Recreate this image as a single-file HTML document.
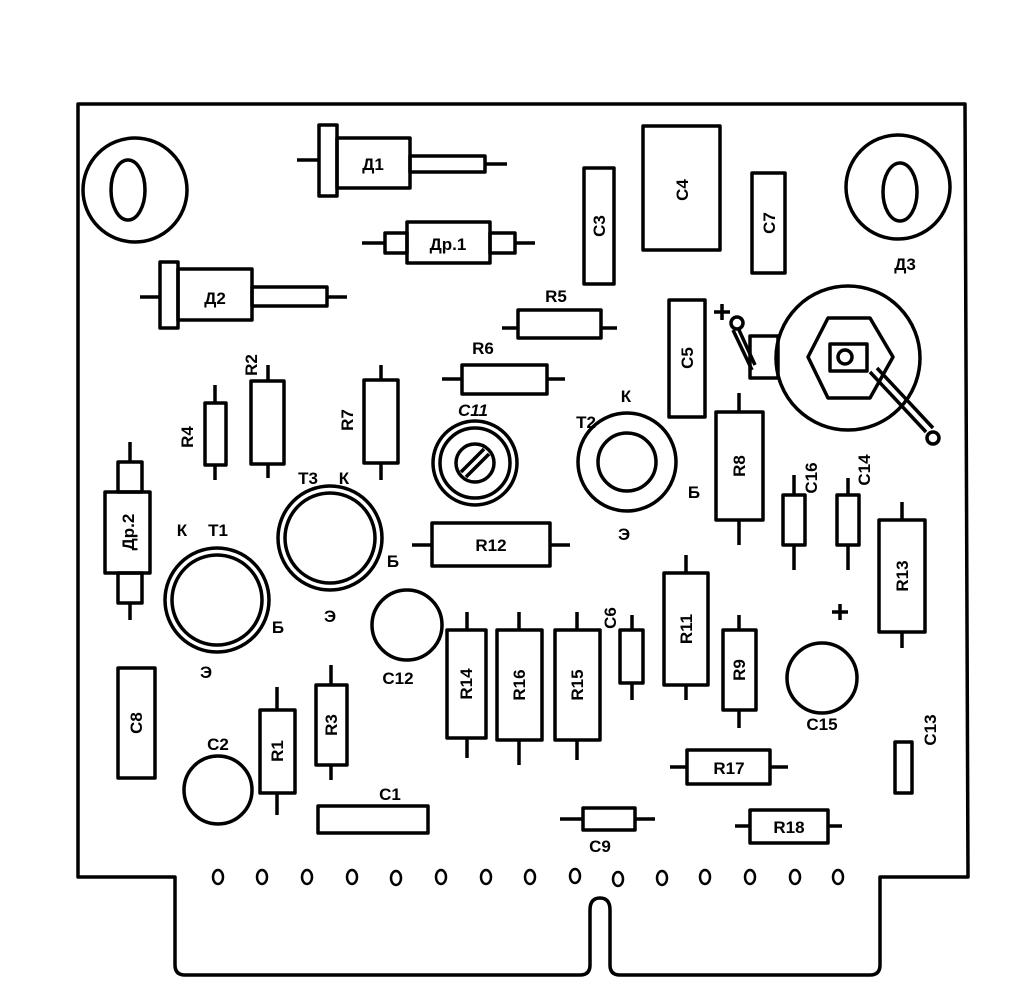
<!DOCTYPE html>
<html><head><meta charset="utf-8"><style>
html,body{margin:0;padding:0;background:#fff}
svg{display:block}
text{font-family:"Liberation Sans",sans-serif;font-weight:bold;font-size:17px;fill:#000}
</style></head><body>
<svg width="1023" height="1002" viewBox="0 0 1023 1002" xmlns="http://www.w3.org/2000/svg">
<g fill="none" stroke="#000" stroke-width="3.5" stroke-linejoin="round">
<path d="M78 877 L78 104 L965 104 L968 877 L880 877 L880 965 Q880 975 870 975 L620 975 Q610 975 610 965 L610 910 Q610 898 600 898 Q590 898 590 910 L590 965 Q590 975 580 975 L185 975 Q175 975 175 965 L175 877 Z"/>
<circle cx="135" cy="190" r="52"/><ellipse cx="128" cy="190" rx="17" ry="30"/>
<circle cx="898" cy="187" r="52"/><ellipse cx="900" cy="192" rx="17" ry="29"/>
<path d="M297 160H320M485 164H507"/>
<rect x="319" y="125" width="18" height="71"/><rect x="337" y="138" width="73" height="50"/><rect x="410" y="156" width="75" height="16"/>
<path d="M362 243H385M515 243H535"/>
<rect x="385" y="233" width="22" height="20"/><rect x="407" y="222" width="83" height="41"/><rect x="490" y="233" width="25" height="20"/>
<path d="M140 297H160M327 297H347"/>
<rect x="160" y="262" width="18" height="66"/><rect x="178" y="269" width="74" height="51"/><rect x="252" y="287" width="75" height="19"/>
<rect x="584" y="168" width="30" height="116"/>
<rect x="643" y="126" width="77" height="124"/>
<rect x="752" y="173" width="33" height="100"/>
<rect x="669" y="300" width="36" height="117"/>
<path d="M502 328H518M601 328H617"/><rect x="518" y="310" width="83" height="28"/>
<path d="M442 379H462M547 379H565"/><rect x="462" y="365" width="85" height="29"/>
<path d="M215 385V403M215 465V480"/><rect x="205" y="403" width="21" height="62"/>
<path d="M268 365V381M268 464V478"/><rect x="251" y="381" width="33" height="83"/>
<path d="M381 365V380M381 463V480"/><rect x="364" y="380" width="34" height="83"/>
<circle cx="475" cy="463" r="42"/><circle cx="475" cy="463" r="35"/><circle cx="475" cy="463" r="19"/>
<path d="M461 472L484 449M466 477L489 454"/>
<path d="M130 442V462M130 603V620"/>
<rect x="118" y="462" width="24" height="30"/><rect x="105" y="492" width="45" height="81"/><rect x="118" y="573" width="24" height="30"/>
<circle cx="330" cy="538" r="52"/><circle cx="330" cy="538" r="45"/>
<circle cx="217" cy="600" r="52"/><circle cx="217" cy="600" r="45"/>
<circle cx="627" cy="462" r="49"/><circle cx="627" cy="462" r="29"/>
<path d="M412 545H432M550 545H570"/><rect x="432" y="523" width="118" height="43"/>
<circle cx="848" cy="358" r="72"/>
<path d="M828 318H870L893 357L870 398H828L808 357Z"/>
<rect x="830" y="344" width="37" height="27"/><circle cx="845" cy="357" r="7"/>
<path d="M870 372L926 432M877 368L933 428"/><circle cx="933" cy="438" r="6"/>
<rect x="750" y="336" width="28" height="42"/>
<circle cx="737" cy="323" r="6"/><path d="M733 330L752 370M739 330L755 365"/>
<path d="M714 312H730M722 304V320"/>
<path d="M739 393V412M739 520V545"/><rect x="716" y="412" width="47" height="108"/>
<path d="M794 475V495M794 545V570"/><rect x="783" y="495" width="22" height="50"/>
<path d="M848 478V495M848 545V570"/><rect x="837" y="495" width="22" height="50"/>
<path d="M902 502V520M902 632V648"/><rect x="879" y="520" width="46" height="112"/>
<path d="M832 612H848M840 604V620"/>
<circle cx="822" cy="678" r="35"/>
<rect x="895" y="742" width="17" height="51"/>
<path d="M686 555V573M686 685V700"/><rect x="664" y="573" width="44" height="112"/>
<path d="M739 615V630M739 710V728"/><rect x="723" y="630" width="33" height="80"/>
<path d="M632 615V630M632 683V700"/><rect x="620" y="630" width="23" height="53"/>
<path d="M577 612V630M577 740V760"/><rect x="555" y="630" width="45" height="110"/>
<path d="M519 612V630M519 740V765"/><rect x="497" y="630" width="45" height="110"/>
<path d="M467 612V630M467 738V758"/><rect x="447" y="630" width="39" height="108"/>
<circle cx="407" cy="625" r="35"/>
<rect x="118" y="668" width="37" height="110"/>
<circle cx="218" cy="790" r="34"/>
<path d="M277 687V710M277 793V815"/><rect x="260" y="710" width="35" height="83"/>
<path d="M331 665V685M331 765V780"/><rect x="316" y="685" width="31" height="80"/>
<rect x="318" y="806" width="110" height="27"/>
<path d="M670 767H687M770 767H788"/><rect x="687" y="750" width="83" height="34"/>
<path d="M560 819H583M635 819H655"/><rect x="583" y="808" width="52" height="22"/>
<path d="M735 826H750M828 826H842"/><rect x="750" y="810" width="78" height="33"/>
<g stroke-width="2.5">
<ellipse cx="218" cy="877" rx="5" ry="7"/><ellipse cx="262" cy="877" rx="5" ry="7"/><ellipse cx="307" cy="877" rx="5" ry="7"/><ellipse cx="352" cy="877" rx="5" ry="7"/><ellipse cx="396" cy="878" rx="5" ry="7"/><ellipse cx="441" cy="877" rx="5" ry="7"/><ellipse cx="486" cy="877" rx="5" ry="7"/><ellipse cx="530" cy="877" rx="5" ry="7"/><ellipse cx="575" cy="876" rx="5" ry="7"/><ellipse cx="618" cy="879" rx="5" ry="7"/><ellipse cx="662" cy="878" rx="5" ry="7"/><ellipse cx="705" cy="877" rx="5" ry="7"/><ellipse cx="750" cy="877" rx="5" ry="7"/><ellipse cx="795" cy="877" rx="5" ry="7"/><ellipse cx="838" cy="877" rx="5" ry="7"/>
</g>
</g>
<g text-anchor="middle">
<text x="373" y="170">Д1</text>
<text x="448" y="250" font-size="16">Др.1</text>
<text x="215" y="304">Д2</text>
<text x="905" y="270">Д3</text>
<text x="556" y="302" font-size="16">R5</text>
<text x="483" y="354" font-size="16">R6</text>
<text x="473" y="416" font-style="italic">C11</text>
<text x="586" y="428" font-size="16">T2</text>
<text x="626" y="402" font-size="16">К</text>
<text x="694" y="498" font-size="16">Б</text>
<text x="624" y="540" font-size="16">Э</text>
<text x="308" y="484" font-size="16">T3</text>
<text x="344" y="484" font-size="16">К</text>
<text x="393" y="567" font-size="16">Б</text>
<text x="330" y="622" font-size="16">Э</text>
<text x="182" y="536" font-size="16">К</text>
<text x="218" y="536" font-size="16">T1</text>
<text x="278" y="633" font-size="16">Б</text>
<text x="206" y="678" font-size="16">Э</text>
<text x="491" y="551" font-size="16">R12</text>
<text x="398" y="684" font-size="16">C12</text>
<text x="822" y="730" font-size="16">C15</text>
<text x="218" y="750" font-size="16">C2</text>
<text x="390" y="800" font-size="16">C1</text>
<text x="729" y="774" font-size="16">R17</text>
<text x="600" y="852" font-size="16">C9</text>
<text x="789" y="833" font-size="16">R18</text>
</g>
<g text-anchor="middle" font-size="16">
<text transform="translate(605,226) rotate(-90)">C3</text>
<text transform="translate(688,190) rotate(-90)">C4</text>
<text transform="translate(775,223) rotate(-90)">C7</text>
<text transform="translate(693,358) rotate(-90)">C5</text>
<text transform="translate(745,466) rotate(-90)">R8</text>
<text transform="translate(817,478) rotate(-90)">C16</text>
<text transform="translate(870,470) rotate(-90)">C14</text>
<text transform="translate(908,576) rotate(-90)">R13</text>
<text transform="translate(936,730) rotate(-90)">C13</text>
<text transform="translate(692,629) rotate(-90)">R11</text>
<text transform="translate(745,670) rotate(-90)">R9</text>
<text transform="translate(616,618) rotate(-90)">C6</text>
<text transform="translate(583,685) rotate(-90)">R15</text>
<text transform="translate(525,685) rotate(-90)">R16</text>
<text transform="translate(472,684) rotate(-90)">R14</text>
<text transform="translate(142,723) rotate(-90)">C8</text>
<text transform="translate(283,751) rotate(-90)">R1</text>
<text transform="translate(337,725) rotate(-90)">R3</text>
<text transform="translate(134,532) rotate(-90)">Др.2</text>
<text transform="translate(193,437) rotate(-90)">R4</text>
<text transform="translate(257,365) rotate(-90)">R2</text>
<text transform="translate(353,420) rotate(-90)">R7</text>
</g>
</svg>
</body></html>
